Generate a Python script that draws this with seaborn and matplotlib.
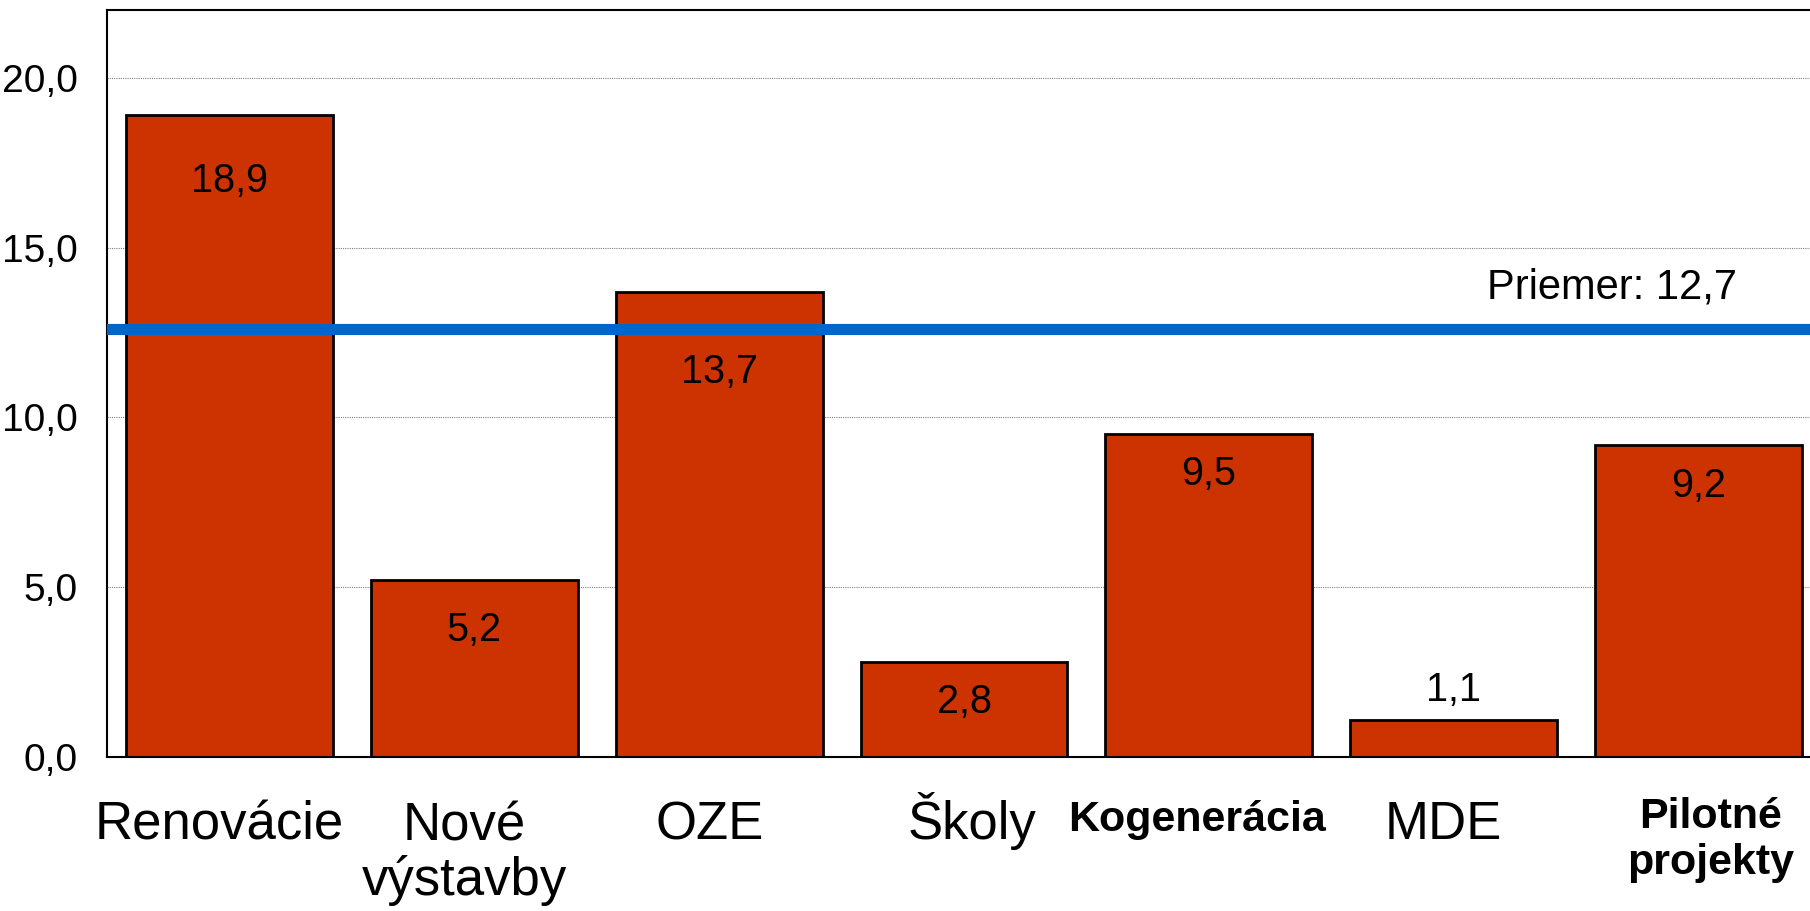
import numpy as np
import pandas as pd
import seaborn as sns
import matplotlib.pyplot as plt
from matplotlib.ticker import FuncFormatter

# data
categories = ["Renovácie", "Nové\nvýstavby", "OZE", "Školy", "Kogenerácia", "MDE", "Pilotné\nprojekty"]
values = [18.9, 5.2, 13.7, 2.8, 9.5, 1.1, 9.2]
priemer = 12.7        # value in the label
priemer_line = 12.6   # level where the blue line is drawn

df = pd.DataFrame({"kat": categories, "hodnota": values})

sns.set_style("white")
plt.rcParams['font.family'] = ['Liberation Sans', 'DejaVu Sans']

fig = plt.figure(figsize=(18.1, 9.11), dpi=100)
ax = fig.add_axes([0.0591, 0.169, 0.947, 0.82])

sns.barplot(data=df, x="kat", y="hodnota", color="#CC3300", saturation=1,
            width=0.845, edgecolor="black", linewidth=2, ax=ax, zorder=2)

ax.set_xlim(-0.5, len(categories) - 0.5)
ax.set_ylim(0, 22)
ax.set_yticks([0, 5, 10, 15, 20])
ax.yaxis.set_major_formatter(FuncFormatter(lambda y, p: f"{y:.1f}".replace(".", ",")))
ax.yaxis.grid(True, linestyle=(0, (1, 1)), color="#808080", linewidth=0.8, zorder=0)
ax.set_axisbelow(True)
ax.set_xlabel("")
ax.set_ylabel("")

for s in ["left", "bottom", "top", "right"]:
    ax.spines[s].set_color("black")
    ax.spines[s].set_linewidth(1.5)

ax.tick_params(axis="y", length=0, pad=21, labelsize=28, labelcolor="black")
ax.tick_params(axis="x", length=0)
ax.set_xticklabels([])

# category labels drawn under each bar (first line baseline aligned)
bold_labels = ["Kogenerácia", "Pilotné\nprojekty"]
x_shift = [-10, -10, -9, 8, -12, -10, 12]
for i, (lab, dx) in enumerate(zip(categories, x_shift)):
    n = lab.count("\n")
    if lab in bold_labels:
        fs, fw, first, gap, ls = 31, "bold", 74, 43, 1.19
    else:
        fs, fw, first, gap, ls = 38, "normal", 82, 56, 1.1
    ax.annotate(lab, (i, 0), xytext=(dx, -(first + n * gap)),
                textcoords="offset pixels", xycoords=ax.get_xaxis_transform(),
                ha="center", va="baseline", multialignment="center",
                fontsize=fs, fontweight=fw, linespacing=ls, color="black",
                annotation_clip=False)

# average line + label
ax.axhline(priemer_line, color="#0066CC", linewidth=8, zorder=3)
ax.text(0.951, 13.5, f"Priemer: {priemer:.1f}".replace(".", ","),
        transform=ax.get_yaxis_transform(), ha="right", va="baseline",
        fontsize=30, color="black")

# value labels (pixel offset of label centre below bar top)
drops = [66, 50, 80, 40, 40, -30, 41]
for i, (v, d) in enumerate(zip(values, drops)):
    ax.annotate(f"{v:.1f}".replace(".", ","), (i, v), xytext=(0, -d),
                textcoords="offset pixels", ha="center", va="center",
                fontsize=28.5, color="black", zorder=4)

fig.savefig("out.png", dpi=100)
